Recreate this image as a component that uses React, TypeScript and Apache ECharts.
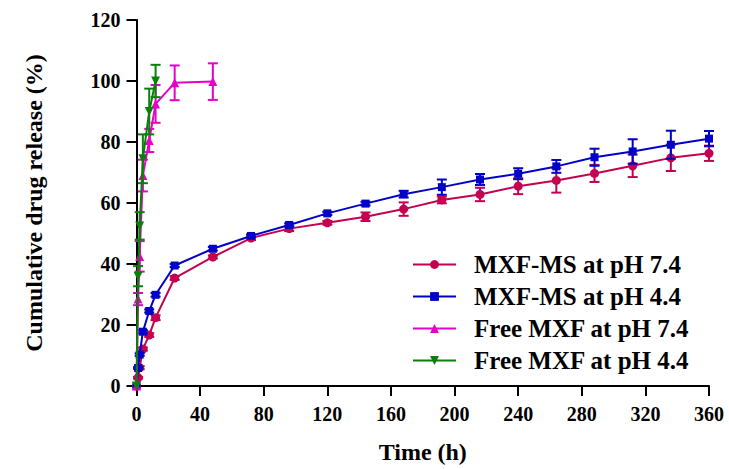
import React, { useEffect, useRef } from "react";
import * as echarts from "echarts";

const xTicks = [0, 40, 80, 120, 160, 200, 240, 280, 320, 360];
const yTicks = [0, 20, 40, 60, 80, 100, 120];

const timeMS = [0, 1, 2, 4, 8, 12, 24, 48, 72, 96, 120, 144, 168, 192, 216, 240, 264, 288, 312, 336, 360];
const ms74 = [0, 2.7, 6.0, 12.1, 16.7, 22.4, 35.4, 42.3, 48.5, 51.6, 53.5, 55.5, 58.0, 61.0, 62.8, 65.5, 67.4, 69.7, 72.2, 74.8, 76.3];
const ms74Err = [0, 0.3, 0.5, 0.5, 0.6, 0.8, 0.6, 0.5, 0.6, 0.8, 0.6, 1.4, 2.2, 1.1, 2.2, 2.6, 4.0, 2.8, 3.7, 4.3, 2.5];
const ms44 = [0, 5.9, 10.3, 17.8, 24.6, 29.9, 39.5, 45.0, 49.2, 52.8, 56.6, 59.8, 62.9, 65.2, 67.7, 69.6, 72.0, 75.0, 76.9, 79.1, 81.1];
const ms44Err = [0, 0.3, 0.4, 0.5, 0.5, 0.6, 0.5, 0.6, 0.5, 0.5, 0.5, 0.6, 1.1, 2.5, 1.8, 1.8, 2.1, 2.8, 4.0, 4.6, 2.5];

const timeFree74 = [0, 1, 2, 4, 8, 12, 24, 48];
const free74 = [0, 28.5, 42.5, 69.0, 80.5, 92.5, 99.4, 99.8];
const free74Err = [0, 2.0, 5.0, 5.2, 3.8, 6.2, 5.7, 6.0];

const timeFree44 = [0, 1, 2, 4, 8, 12];
const free44 = [0, 36.0, 52.5, 74.5, 90.0, 100.0];
const free44Err = [0, 3.3, 4.5, 8.0, 7.5, 5.3];

const names = ["MXF-MS at pH 7.4", "MXF-MS at pH 4.4", "Free MXF at pH 7.4", "Free MXF at pH 4.4"];
const colors = ["#C40050", "#0000C8", "#E600C8", "#0A800A"];

const FONT = "Liberation Serif";

function pairs(t: number[], v: number[]) {
  return t.map((x, i) => [x, v[i]]);
}
function triples(t: number[], v: number[], e: number[]) {
  return t.map((x, i) => [x, v[i], e[i]]);
}

function errSeries(name: string, color: string, data: number[][], z: number) {
  return {
    type: "custom",
    name,
    z,
    silent: true,
    clip: false,
    data,
    renderItem: (params: any, api: any) => {
      const x = api.value(0);
      const y = api.value(1);
      const e = api.value(2);
      if (!e) return null;
      const top = api.coord([x, y + e]);
      const bot = api.coord([x, y - e]);
      const hw = 5;
      const st = { stroke: color, lineWidth: 2 };
      return {
        type: "group",
        children: [
          { type: "line", shape: { x1: top[0], y1: top[1], x2: bot[0], y2: bot[1] }, style: st },
          { type: "line", shape: { x1: top[0] - hw, y1: top[1], x2: top[0] + hw, y2: top[1] }, style: st },
          { type: "line", shape: { x1: bot[0] - hw, y1: bot[1], x2: bot[0] + hw, y2: bot[1] }, style: st },
        ],
      };
    },
  };
}

function lineSeries(name: string, color: string, data: number[][], symbol: string, size: number, z: number, rotate = 0) {
  return {
    type: "line",
    name,
    data,
    z,
    clip: false,
    symbol,
    symbolSize: size,
    symbolRotate: rotate,
    showAllSymbol: true,
    lineStyle: { color, width: 2 },
    itemStyle: { color, borderWidth: 0 },
  };
}

export default function App() {
  const ref = useRef<HTMLDivElement>(null);
  useEffect(() => {
    if (!ref.current) return;
    const chart = echarts.init(ref.current, undefined, { renderer: "svg" });
    chart.setOption({
      animation: false,
      backgroundColor: "#ffffff",
      grid: { left: 136.5, right: 20, top: 20, bottom: 78, containLabel: false },
      legend: {
        data: names,
        orient: "vertical",
        left: 407,
        top: 247,
        itemWidth: 43,
        itemHeight: 11,
        itemGap: 7,
        textStyle: {
          fontFamily: FONT,
          fontWeight: "bold",
          fontSize: 25,
          color: "#000",
          lineHeight: 24,
          padding: [0, 0, 0, 13],
        },
      },
      xAxis: {
        type: "value",
        min: 0,
        max: 360,
        interval: 40,
        name: "Time (h)",
        nameLocation: "middle",
        nameGap: 54,
        nameTextStyle: { fontFamily: FONT, fontWeight: "bold", fontSize: 24, color: "#000" },
        axisLine: { show: true, onZero: false, lineStyle: { color: "#000", width: 2 } },
        axisTick: { show: true, length: 10, lineStyle: { color: "#000", width: 2 } },
        axisLabel: {
          margin: 18,
          fontFamily: FONT,
          fontWeight: "bold",
          fontSize: 20,
          color: "#000",
          formatter: (v: number) => (xTicks.includes(v) ? String(v) : ""),
        },
        splitLine: { show: false },
      },
      yAxis: {
        type: "value",
        min: 0,
        max: 120,
        interval: 20,
        name: "Cumulative drug release (%)",
        nameLocation: "middle",
        nameRotate: 90,
        nameGap: 91,
        nameTextStyle: { fontFamily: FONT, fontWeight: "bold", fontSize: 24, color: "#000" },
        axisLine: { show: true, onZero: false, lineStyle: { color: "#000", width: 2 } },
        axisTick: { show: true, length: 10, lineStyle: { color: "#000", width: 2 } },
        axisLabel: {
          margin: 16,
          fontFamily: FONT,
          fontWeight: "bold",
          fontSize: 20,
          color: "#000",
          formatter: (v: number) => (yTicks.includes(v) ? String(v) : ""),
        },
        splitLine: { show: false },
      },
      series: [
        errSeries("err0", colors[0], triples(timeMS, ms74, ms74Err), 2),
        lineSeries(names[0], colors[0], pairs(timeMS, ms74), "circle", 9, 3),
        errSeries("err1", colors[1], triples(timeMS, ms44, ms44Err), 4),
        lineSeries(names[1], colors[1], pairs(timeMS, ms44), "rect", 8, 5),
        errSeries("err2", colors[2], triples(timeFree74, free74, free74Err), 6),
        lineSeries(names[2], colors[2], pairs(timeFree74, free74), "triangle", 9, 7),
        errSeries("err3", colors[3], triples(timeFree44, free44, free44Err), 8),
        lineSeries(names[3], colors[3], pairs(timeFree44, free44), "triangle", 9, 9, 180),
      ],
    });
    return () => chart.dispose();
  }, []);
  return <div ref={ref} style={{ position: "absolute", left: 0, top: 0, width: 729, height: 469 }} />;
}
